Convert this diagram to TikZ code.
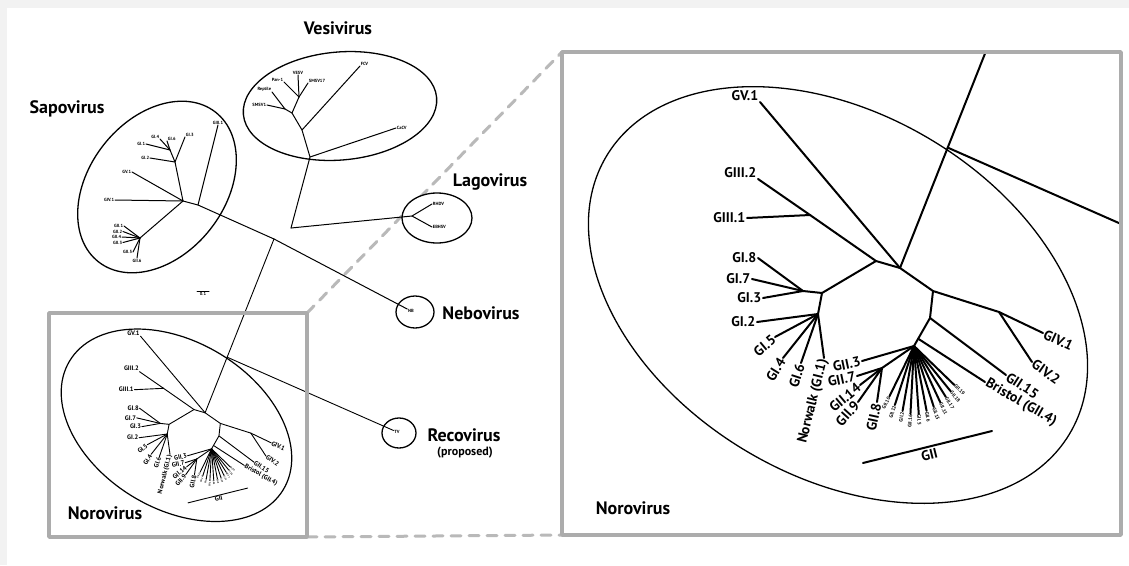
\documentclass[tikz,border=0pt]{standalone}
\usepackage{fontspec}
\setmainfont{PT Sans}
\usetikzlibrary{calc, shapes.geometric}

\tikzset{
  br/.style={line width=2pt},
  stem/.style={line width=1pt},
  clade/.style={draw, ellipse, line width=1.3pt, inner sep=0pt},
  tip/.style={font=\bfseries\fontsize{14}{14}\selectfont, inner sep=1.5pt},
  fanlab/.style={font=\bfseries\fontsize{5}{5}\selectfont, inner sep=0.8pt},
  leaf/.style={font=\bfseries\fontsize{4.5}{4.5}\selectfont, inner sep=0.7pt},
  genus/.style={font=\bfseries\fontsize{18}{18}\selectfont},
  frame/.style={draw=gray!65, line width=3.5pt},
  zoomline/.style={draw=gray!55, line width=3pt, dash pattern=on 10pt off 8pt},
}

% norovirus tree, drawn in the coordinates of the enlarged panel
\newcommand{\norotree}[3]{%
  \node[clade, minimum width=540pt, minimum height=362pt, rotate=-31] (#1clade) at (838,-295) {};
  \coordinate (#1T) at (900,-268);
  \coordinate (#1Rb) at ($(#1T)!0.32!(#2)$);
  \coordinate (#1V1) at (876,-261);
  \coordinate (#1V2) at (933,-291);
  \coordinate (#1V3) at (930,-318);
  \coordinate (#1N) at (914,-346);
  \coordinate (#1Bj) at ($(#1V3)!0.74!(#1N)$);
  \coordinate (#1G1) at (822,-293);
  \coordinate (#1G2) at (803,-291);
  \coordinate (#1G3) at (818,-314);
  \coordinate (#1GIIIj) at (810,-215);
  \coordinate (#1S1) at (882,-368);
  \coordinate (#1GIVj) at (999,-312);
  \draw[br] (#1T) -- (#2);
  \draw[br] (#1Rb) -- (#3);
  \draw[br] (#1G1) -- (#1V1) -- (#1T) -- (#1V2) -- (#1V3) -- (#1N) -- (#1S1);
  \draw[br] (#1V1) -- (#1GIIIj);
  \draw[br] (#1G2) -- (#1G1) -- (#1G3);
  \draw[br] (#1V2) -- (#1GIVj);
  \foreach \lf/\px/\py/\src/\anc/\rot/\txt in {
      GV/760/102/T/south east/0/GV.1,
      GIIIb/758/179/GIIIj/south east/0/GIII.2,
      GIIIa/747/218/GIIIj/east/0/GIII.1,
      GIh/758/258/G2/east/0/GI.8,
      GIg/752/279/G2/east/0/GI.7,
      GIc/763/298/G2/east/0/GI.3,
      GIb/757/322/G3/east/0/GI.2,
      GIe/775/337/G3/east/40/GI.5,
      GId/783/358/G3/east/58/GI.4,
      GIf/801/363/G3/east/72/GI.6,
      GIa/824/358/G3/east/76/Norwalk (GI.1),
      GIIc/862/361/N/east/12/GII.3,
      GIIg/857/376/S1/east/12/GII.7,
      GIIn/860/385/S1/east/40/GII.14,
      GIIi/858/402/S1/east/48/GII.9,
      GIIh/877/402/S1/east/78/GII.8,
      GIIo/1006/375/V3/west/-33/GII.15,
      GIId/985/382/Bj/west/-30/Bristol (GII.4),
      GIVa/1043/333/GIVj/west/-25/GIV.1,
      GIVb/1032/362/GIVj/west/-35/GIV.2}{
    \coordinate (#1\lf) at (\px,-\py);
    \draw[br] (#1\src) -- (#1\lf);
    \node[tip, anchor=\anc, rotate=\rot] (#1\lf-lab) at (#1\lf) {\txt};
  }
  \foreach \a/\r/\anc/\rot/\txt in {-116/56/east/64/GII.10, -108/62/east/72/GII.12,
      -100/66/east/80/GII.2, -93/68/east/87/GII.16, -86/68/west/-86/GII.5,
      -79/66/west/-79/GII.6, -72/64/west/-72/GII.13, -65/62/west/-65/GII.11,
      -58/60/west/-58/GII.17, -51/58/west/-51/GII.18, -44/56/west/-44/GII.19}{
    \coordinate (#1fan\a) at ($(#1N)+(\a:\r)$);
    \draw[br] (#1N) -- (#1fan\a);
    \node[fanlab, anchor=\anc, rotate=\rot] (#1fanlab\a) at (#1fan\a) {\txt};
  }
  \coordinate (#1barA) at (863,-463);
  \coordinate (#1barB) at (992,-431);
  \draw[br] (#1barA) -- node[tip, below, sloped] (#1barlab) {GII} (#1barB);
}

\begin{document}
\begin{tikzpicture}[x=1pt, y=1pt, line cap=round, line join=round]
\useasboundingbox (0,0) rectangle (1129,-565);
\fill[gray!10] (0,0) rectangle (1129,-565);
\fill[white] (7,-8) rectangle (1129,-565);

\coordinate (lboxNW) at (49,-313);
\coordinate (lboxSE) at (307,-537);
\coordinate (rboxNW) at (562,-52);
\coordinate (rboxSE) at (1121,-535);
\draw[zoomline] (lboxSE |- lboxNW) -- (rboxNW);
\draw[zoomline] (lboxSE) -- (rboxNW |- rboxSE);

% genus outlines
\node[clade, minimum width=194pt, minimum height=108pt, rotate=5] (vesiclade) at (340,-106) {};
\node[clade, minimum width=190pt, minimum height=136pt, rotate=52] (sapoclade) at (157,-187) {};
\node[clade, fill=white, minimum width=70pt, minimum height=50pt] (lagoclade) at (437,-218) {};
\node[clade, minimum width=38pt, minimum height=32pt] (neboclade) at (415,-312) {};
\node[clade, minimum width=34pt, minimum height=30pt] (recoclade) at (399,-433) {};

\coordinate (c1) at (291,-228);
\coordinate (c2) at (274,-239);
\coordinate (rhub) at (1049.1,108.2);
\coordinate (rreco) at (1315.4,-309.6);

% vesivirus
\coordinate (vroot) at (310,-157);
\coordinate (vA) at (302,-130);
\coordinate (vD) at (292,-113);
\coordinate (vB) at (285,-109);
\coordinate (vC) at (299,-97);
\draw[stem] (c1) -- (vroot) -- (vA) -- (vD) -- (vB);
\draw[stem] (vD) -- (vC);
\foreach \lf/\px/\py/\src/\anc/\txt in {CaCV/396/128/vroot/west/CaCV, FCV/360/66/vA/south west/FCV,
    SMSVa/267/105/vB/east/SMSV1, Rep/272/92/vB/south east/Reptile, Pan/284/82/vC/south east/Pan-1,
    VESV/298/75/vC/south/VESV, SMSVb/308/83/vC/south west/SMSV17}{
  \coordinate (\lf) at (\px,-\py);
  \draw[stem] (\src) -- (\lf);
  \node[leaf, anchor=\anc] (\lf-lab) at (\lf) {\txt};
}

% sapovirus
\coordinate (N1) at (198,-205);
\coordinate (N2) at (183,-201);
\coordinate (U1) at (175,-162);
\coordinate (U2) at (170,-150);
\coordinate (L1) at (140,-238);
\draw[stem] (c2) -- (N1) -- (N2) -- (U1) -- (U2);
\draw[stem] (N2) -- (L1);
\foreach \lf/\px/\py/\src/\anc/\txt in {sa/218/125/N1/south/GIII.1, sb/146/144/U2/east/GI.1,
    sc/160/139/U2/south east/GI.4, sd/167/141/U2/south west/GI.6, se/185/137/U1/south west/GI.3,
    sf/150/158/U1/east/GI.2, sg/132/172/N2/east/GV.1, sh/115/200/N2/east/GIV.1,
    si/124/226/L1/east/GII.1, sj/123/231.5/L1/east/GII.2, sk/122/237/L1/east/GII.4,
    sl/123/242.5/L1/east/GII.3, sm/133/252/L1/east/GII.5, sn/137/258/L1/north/GII.6}{
  \coordinate (\lf) at (\px,-\py);
  \draw[stem] (\src) -- (\lf);
  \node[leaf, anchor=\anc] (\lf-lab) at (\lf) {\txt};
}
\coordinate (sbA) at (197,-291);
\coordinate (sbB) at (209,-291);
\draw[stem] (sbA) -- node[leaf, below] (sblab) {0.1} (sbB);

% lagovirus, nebovirus, recovirus
\coordinate (lagoJ) at (412,-216);
\coordinate (rhdv) at (432,-204);
\coordinate (ebhsv) at (432,-227);
\draw[stem] (c1) -- (lagoJ) -- (rhdv);
\draw[stem] (lagoJ) -- (ebhsv);
\node[leaf, anchor=west] (rhdvlab) at (rhdv) {RHDV};
\node[leaf, anchor=west] (ebhsvlab) at (ebhsv) {EBHSV};
\node[leaf] (nb) at (411,-311) {NB};
\draw[stem] (c2) -- (nb);
\node[leaf] (tv) at (397,-432) {TV};

% small norovirus panel
\begin{scope}[shift={(-210.6,-289)}, scale=0.4619, transform shape,
  br/.style={line width=0.9pt}, clade/.append style={line width=1.2pt}]
  \norotree{l}{c2}{tv}
\end{scope}
\draw[frame] (lboxNW) rectangle (lboxSE);

% enlarged norovirus panel
\begin{scope}
  \clip (rboxNW) rectangle (rboxSE);
  \norotree{r}{rhub}{rreco}
\end{scope}
\draw[frame] (rboxNW) rectangle (rboxSE);

\node[genus] (vesilab) at (338,-28) {Vesivirus};
\node[genus] (sapolab) at (67,-109) {Sapovirus};
\node[genus] (lagolab) at (490,-182) {Lagovirus};
\node[genus] (nebolab) at (481,-313) {Nebovirus};
\node[genus] (recolab) at (464,-435) {Recovirus};
\node[font=\bfseries\fontsize{12}{12}\selectfont] (proplab) at (465,-453) {(proposed)};
\node[genus] (norolab) at (105,-513) {Norovirus};
\node[genus] (noroRlab) at (633,-508) {Norovirus};
\end{tikzpicture}
\end{document}
